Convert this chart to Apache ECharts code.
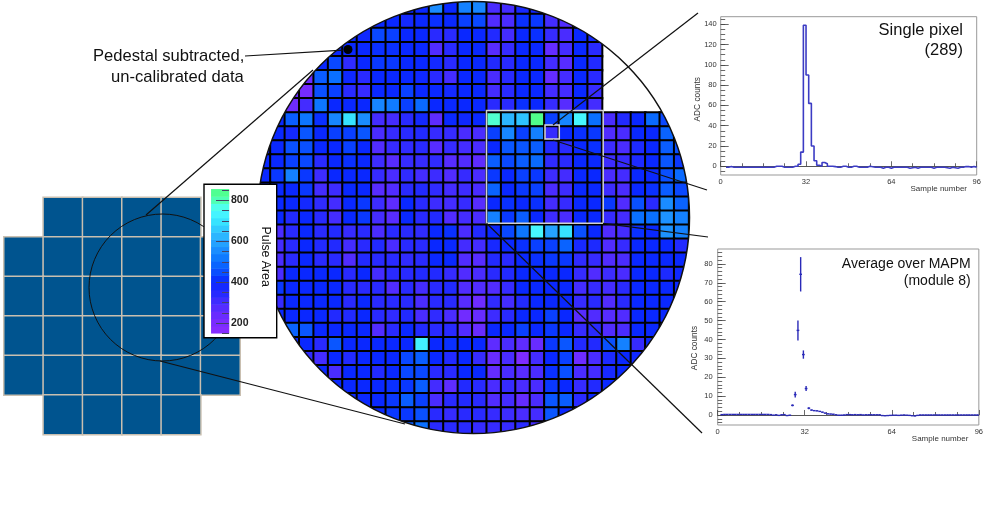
<!DOCTYPE html>
<html><head><meta charset="utf-8">
<style>html,body{margin:0;padding:0;background:#fff}#c{width:986px;height:513px}</style>
<script src="https://cdn.jsdelivr.net/npm/echarts@6/dist/echarts.min.js"></script>
</head><body><div id="c"></div>
<script>
// pulse area per pixel (row by row, columns 0..29); null = no pixel there
const pulseRows = [
[400,400,400,400,400,400,400,400,400,400,400,400,550,400,530,540,290,300,370,380,300,330,400,400,null,null,null,null,null,null],
[400,400,400,400,400,400,400,400,400,400,380,400,410,400,430,440,280,290,410,420,300,280,410,350,null,null,null,null,null,null],
[400,400,400,400,400,400,400,390,440,430,400,400,340,340,400,400,350,300,400,410,320,290,400,380,null,null,null,null,null,null],
[400,400,400,400,400,400,400,400,410,410,400,400,280,340,400,400,270,320,400,400,250,300,400,340,null,null,null,null,null,null],
[400,400,400,400,400,440,330,400,420,420,400,400,380,340,400,400,350,340,400,400,300,270,400,350,null,null,null,null,null,null],
[400,400,400,230,470,500,390,340,400,400,400,390,340,300,400,400,290,340,400,400,250,300,400,340,null,null,null,null,null,null],
[400,400,240,210,450,430,340,320,400,400,430,400,400,380,400,400,300,340,400,400,300,300,400,320,null,null,null,null,null,null],
[400,400,230,300,510,400,400,400,540,520,430,490,400,400,400,400,340,340,410,400,320,270,400,300,null,null,null,null,null,null],
[400,400,470,510,410,540,690,550,300,300,340,380,260,400,390,400,780,620,640,840,430,540,730,500,290,350,400,490,440,400],
[400,400,380,460,400,430,430,460,290,320,340,350,320,320,290,290,430,540,430,530,320,400,410,420,280,290,400,400,480,420],
[400,400,450,450,400,400,430,400,280,320,330,340,270,320,300,290,400,460,460,470,350,340,400,410,310,290,360,400,470,450],
[400,400,430,440,340,400,410,400,310,270,320,320,330,270,280,260,470,440,470,490,330,340,400,400,310,320,360,400,460,420],
[400,420,530,420,310,400,400,400,320,290,330,300,310,280,320,290,420,400,430,420,310,300,400,400,290,300,400,400,450,490],
[400,400,400,420,300,310,400,400,270,280,340,350,330,300,310,290,480,400,420,430,290,310,400,400,310,290,400,410,470,440],
[400,400,400,380,330,300,400,420,310,260,400,340,310,300,320,270,400,410,400,410,300,320,400,400,420,280,450,340,550,480],
[400,400,350,400,340,300,400,420,300,270,400,340,350,280,300,290,530,420,470,400,310,290,400,400,320,300,500,500,560,530],
[400,290,340,400,340,350,320,340,290,340,340,330,400,410,290,350,400,440,510,730,590,690,450,400,280,300,410,400,560,530],
[400,300,340,400,350,350,300,340,350,290,340,340,400,400,300,300,370,400,410,430,430,480,370,360,280,320,400,400,400,350],
[400,290,340,400,340,340,280,350,340,340,330,340,400,400,280,270,350,340,400,410,420,420,330,320,280,290,400,400,400,400],
[400,290,400,400,400,400,340,400,300,340,340,350,350,320,280,290,340,350,400,400,400,400,320,280,310,290,400,400,360,390],
[400,420,400,400,400,400,340,340,340,280,340,300,340,350,280,280,280,320,400,400,400,400,300,320,300,340,400,400,400,400],
[400,320,400,400,400,400,340,400,340,340,340,290,340,340,270,230,330,300,350,400,400,400,320,340,280,340,400,400,400,400],
[400,400,400,400,400,350,350,400,340,330,350,290,330,290,220,240,310,340,400,400,430,400,270,280,270,280,400,400,400,400],
[400,500,480,460,400,400,400,400,280,340,400,350,340,340,280,240,400,400,430,400,420,400,320,340,280,290,400,400,400,400],
[400,400,400,400,340,460,400,400,400,400,400,720,400,410,400,400,260,290,260,240,420,460,350,350,450,530,320,400,400,400],
[400,400,400,330,300,400,350,400,400,400,440,470,400,350,400,320,240,290,190,300,400,430,230,290,360,400,390,400,400,400],
[400,400,400,400,400,290,400,400,350,400,440,440,340,340,400,400,250,290,270,290,410,450,290,300,370,400,400,400,400,400],
[400,400,400,400,400,400,400,400,400,410,420,470,300,260,350,340,290,320,290,290,420,400,320,350,400,400,400,400,400,400],
[400,400,400,400,400,400,400,400,400,420,470,430,290,340,350,340,280,300,250,290,460,470,340,400,400,400,400,400,400,400],
[400,400,400,400,400,400,400,400,400,420,420,450,340,320,340,340,320,310,290,300,460,400,400,400,400,400,400,400,400,400],
[400,400,400,400,400,400,400,400,400,430,470,500,340,340,340,320,320,320,340,300,400,400,400,400,400,400,400,400,400,400]
];
const paletteColors = ['#8a2cff','#7a2cff','#642cff','#442cff','#222aff','#0a28ff','#0a50ff','#0a70ff','#1a8cff','#28a8ff','#30c8ff','#38e8ff','#50ffff','#50ffb0','#50ff80'];
const colorBandValues = [167,202,237,272,307,342,377,412,447,482,517,552,587,622,657,692,727,762,797,832];
const colorMajorTicks = [200,400,600,800];
const colorMinorTicks = [150,200,250,300,350,400,450,500,550,600,650,700,750,800,850];
// detector modules (1 = present)
const moduleLayout = [
[0,1,1,1,1,0],
[1,1,1,1,1,1],
[1,1,1,1,1,1],
[1,1,1,1,1,1],
[1,1,1,1,1,1],
[0,1,1,1,1,0]];
// single pixel trace, bins 2..95
const singlePixel = [-1,-0.2,-1,-1,-1,-1,-1,-1,-1,-1,-1,-1,-1,-1,-1,-1,-1,-1,0,0,0,-1,-1,-1,-1,0,0,2,14,139,90,62,20,5.5,1,0,3.8,2.5,0,0,-0.3,-1,-1,0,0,-1,-1,0,0,-1,-1,-1,-1,0,-0.5,-1,-1,-1,-2,-1,-1,-2,-1,-1,-1,-1,-1,-1,-2,-1.5,-1,-2,-1,-1,-1,-1,-1,-2,-1,-1,-1,-1,-1.5,-2,-1,-1.5,-2,-1,-1,-0.3,-0.3,-1,-0.2,-1];
const singleMajorY = [0,20,40,60,80,100,120,140];
const singleMinorY = [-5,0,5,10,15,20,25,30,35,40,45,50,55,60,65,70,75,80,85,90,95,100,105,110,115,120,125,130,135,140,145];
// MAPM average, bins 1..95
const mapmAverage = [0.2,0.3,0.3,0.3,0.3,0.3,0.3,0.3,0.3,0.3,0.3,0.3,0.3,0.3,0.3,0.3,0.3,0.3,0.2,-0.1,0.1,-0.2,0.1,0.2,-0.3,-0.1,5.1,10.8,44.8,74.5,32,14,3.6,2.6,2.3,2.2,1.9,1.5,1,0.6,0.5,0.4,0.1,-0.1,-0.1,0,0.2,0.2,0.1,0.2,0.1,0.2,0,0.1,0.1,0.1,0.1,0.1,0.1,-0.3,-0.4,-0.3,-0.2,-0.1,-0.1,-0.2,-0.1,0,-0.1,-0.2,-0.4,-0.5,-0.2,0,0,0,0,0,0,0,0,0,0,0,0,0,0,0,0,0,0,0,0,0,0];
const mapmErrors = [0.15,0.15,0.15,0.15,0.15,0.15,0.15,0.15,0.15,0.15,0.15,0.15,0.15,0.15,0.15,0.15,0.15,0.15,0.15,0.15,0.15,0.15,0.15,0.15,0.15,0.15,0.5,1.5,5.3,9.1,2.2,1.3,0.5,0.3,0.2,0.2,0.2,0.2,0.2,0.2,0.15,0.15,0.15,0.15,0.15,0.15,0.15,0.15,0.15,0.15,0.15,0.15,0.15,0.15,0.15,0.15,0.15,0.15,0.15,0.15,0.15,0.15,0.15,0.15,0.15,0.15,0.15,0.15,0.15,0.15,0.15,0.15,0.15,0.15,0.15,0.15,0.15,0.15,0.15,0.15,0.15,0.15,0.15,0.15,0.15,0.15,0.15,0.15,0.15,0.15,0.15,0.15,0.15,0.15,0.15];
const mapmMajorY = [0,10,20,30,40,50,60,70,80];
const mapmMinorY = [-4,-2,0,2,4,6,8,10,12,14,16,18,20,22,24,26,28,30,32,34,36,38,40,42,44,46,48,50,52,54,56,58,60,62,64,66,68,70,72,74,76,78,80,82,84,86];
const sampleLabels = [0,32,64,96];

const FONT = '"Liberation Sans", Arial, sans-serif';
const range = n => Array.from({length:n},(_,i)=>String(i));
const pulseData = [];
pulseRows.forEach((row,r)=>row.forEach((v,c)=>{ if(v!==null) pulseData.push([c,r,v]); }));
const moduleData = [];
moduleLayout.forEach((row,r)=>row.forEach((v,c)=>{ if(v) moduleData.push([c,r,v]); }));
const bandData = colorBandValues.map((v,i)=>[0,i,v]);

const cx=473.5, cy=217.5, cr=216;
// white cover with a round hole, so that the pixel grid shows only inside the circle
const maskPoints = [[691,cy],[691,-5],[252,-5],[252,440],[691,440],[691,cy]];
for(let t=0;t<=720;t++){ const a=t/720*2*Math.PI; maskPoints.push([cx+cr*Math.cos(a),cy+cr*Math.sin(a)]); }

function line(x1,y1,x2,y2,z,w){return {type:'line',z:z||4,shape:{x1,y1,x2,y2},style:{stroke:'#111',lineWidth:w||1.2,fill:null}};}
function txt(text,x,y,size,align,opt){return Object.assign({type:'text',z:6,x,y,style:{text,fontFamily:FONT,fontSize:size,fill:(opt&&opt.fill)||'#111',textAlign:align,textVerticalAlign:'middle',fontWeight:'normal'}},opt&&opt.rotation?{rotation:opt.rotation}:{});}

function valueY(grid,min,max,ticks,len,labels,size,margin,z){
  return {type:'value',gridIndex:grid,min,max,position:'left',z:z||0,splitLine:{show:false},
    axisLine:{show:false},
    axisTick:{show:true,inside:true,length:len,customValues:ticks,lineStyle:{color:'#444',width:0.8}},
    axisLabel:labels?{show:true,customValues:labels,fontFamily:FONT,fontSize:size,color:'#333',margin}:{show:false}};
}
function sampleX(grid){
  return {type:'value',gridIndex:grid,min:0,max:96,interval:32,splitLine:{show:false},
    axisLine:{show:true,lineStyle:{color:'#555',width:1}},
    axisTick:{show:true,inside:true,length:5,lineStyle:{color:'#444',width:0.8}},
    minorTick:{show:true,splitNumber:4,length:3,lineStyle:{color:'#444',width:0.8}},
    minorSplitLine:{show:false},
    axisLabel:{show:true,fontFamily:FONT,fontSize:7.5,color:'#333',margin:3,customValues:sampleLabels}};
}

const option = {
  animation:false,
  backgroundColor:'#fff',
  grid:[
    {left:256,top:-2.5,width:432.6,height:438,z:1},
    {left:4,top:197.5,width:236,height:237,z:3},
    {left:211.3,top:189.3,width:17.7,height:144,z:6},
    {left:720.7,top:16.7,width:256,height:158.3,show:true,borderColor:'#999',borderWidth:1},
    {left:717.7,top:249,width:262.3,height:176,show:true,borderColor:'#999',borderWidth:1}
  ],
  xAxis:[
    {type:'category',gridIndex:0,data:range(30),show:false},
    {type:'category',gridIndex:1,data:range(6),show:false},
    {type:'category',gridIndex:2,data:['0'],show:false},
    sampleX(3),
    sampleX(4)
  ],
  yAxis:[
    {type:'category',gridIndex:0,data:range(31),inverse:true,show:false},
    {type:'category',gridIndex:1,data:range(6),inverse:true,show:false},
    {type:'category',gridIndex:2,data:range(colorBandValues.length),show:false},
    {type:'value',gridIndex:2,min:150,max:855,position:'right',z:7,splitLine:{show:false},axisLine:{show:false},
      axisTick:{show:true,inside:true,length:13,customValues:colorMajorTicks,lineStyle:{color:'#446',width:1}},
      axisLabel:{show:true,customValues:colorMajorTicks,fontFamily:FONT,fontSize:10.5,fontWeight:'bold',color:'#222',margin:2}},
    {type:'value',gridIndex:2,min:150,max:855,position:'right',z:7,splitLine:{show:false},axisLine:{show:false},
      axisTick:{show:true,inside:true,length:7,customValues:colorMinorTicks,lineStyle:{color:'#446',width:1}},
      axisLabel:{show:false}},
    valueY(3,-8.6,147.5,singleMajorY,8,singleMajorY,7.5,4),
    valueY(3,-8.6,147.5,singleMinorY,4.5,null),
    valueY(4,-5.3,87.9,mapmMajorY,8,mapmMajorY,7.5,5),
    valueY(4,-5.3,87.9,mapmMinorY,4.5,null)
  ],
  visualMap:[
    {show:false,seriesIndex:[0,2],min:150,max:850,dimension:2,inRange:{color:paletteColors}},
    {show:false,seriesIndex:1,min:0,max:1,dimension:2,inRange:{color:['#00548f','#00548f']}}
  ],
  series:[
    {type:'heatmap',z:1,xAxisIndex:0,yAxisIndex:0,data:pulseData,progressive:0,
      itemStyle:{borderColor:'#000',borderWidth:2},emphasis:{disabled:true}},
    {type:'heatmap',z:3,xAxisIndex:1,yAxisIndex:1,data:moduleData,progressive:0,
      itemStyle:{borderColor:'#c9bfb0',borderWidth:1.5},emphasis:{disabled:true}},
    {type:'heatmap',z:6,xAxisIndex:2,yAxisIndex:2,data:bandData,progressive:0,emphasis:{disabled:true}},
    {type:'line',xAxisIndex:3,yAxisIndex:5,step:'end',showSymbol:false,symbol:'none',
      lineStyle:{color:'#3c3cc4',width:1.6},
      data:singlePixel.map((v,i)=>[i+2,v]).concat([[96,singlePixel[singlePixel.length-1]]])},
    {type:'custom',xAxisIndex:4,yAxisIndex:7,clip:true,
      data:mapmAverage.map((v,i)=>[i+1.5,v,mapmErrors[i]]),
      encode:{x:0,y:1},
      renderItem:function(params,api){
        const x=api.value(0), y=api.value(1), e=api.value(2);
        const a=api.coord([x-0.5,y]), b=api.coord([x+0.5,y]);
        const c=api.coord([x,y-e]), d=api.coord([x,y+e]);
        const st={stroke:'#2a2ab8',lineWidth:1.4,fill:null};
        return {type:'group',children:[
          {type:'line',shape:{x1:a[0],y1:a[1],x2:b[0],y2:b[1]},style:st},
          {type:'line',shape:{x1:c[0],y1:c[1],x2:d[0],y2:d[1]},style:st}
        ]};
      }}
  ],
  graphic:{elements:[
    {type:'polygon',z:2,shape:{points:maskPoints},style:{fill:'#fff',stroke:null}},
    {type:'circle',z:3,shape:{cx,cy,r:cr},style:{fill:null,stroke:'#111',lineWidth:1.5}},
    {type:'rect',z:4,shape:{x:486.5,y:110.5,width:116.7,height:112.8},style:{fill:null,stroke:'#d0d0d0',lineWidth:1.5}},
    {type:'rect',z:4,shape:{x:545,y:125,width:14.3,height:14},style:{fill:null,stroke:'#d8d8d8',lineWidth:1.5}},
    {type:'circle',z:4,shape:{cx:162.5,cy:287.5,r:73.5},style:{fill:null,stroke:'#111',lineWidth:1}},
    line(146,215,313,70), line(160,361,405,424),
    line(553,125,698,13), line(553,140,707,190),
    line(603,223.3,708,237), line(486.5,223.3,702,433),
    line(245,56,343,50.2),
    {type:'circle',z:4,shape:{cx:348,cy:49.5,r:4.5},style:{fill:'#000',stroke:null}},
    {type:'rect',z:5,shape:{x:204,y:184.3,width:72.7,height:153.4},style:{fill:'#fff',stroke:'#000',lineWidth:1.4}},
    txt('Pulse Area',265,256.7,12.3,'center',{rotation:-Math.PI/2}),
    txt('Pedestal subtracted,',93,56,16.6,'left'),
    txt('un-calibrated data',111,77,16.6,'left'),
    txt('Single pixel',963,30,16.5,'right'),
    txt('(289)',963,50,16.5,'right'),
    txt('Average over MAPM',970.7,264,14,'right'),
    txt('(module 8)',970.7,280.7,14,'right'),
    txt('Sample number',967,189,8,'right',{fill:'#333'}),
    txt('Sample number',968.3,438.3,8,'right',{fill:'#333'}),
    txt('ADC counts',697.3,99.3,8.3,'center',{rotation:Math.PI/2,fill:'#333'}),
    txt('ADC counts',694.3,348,8.3,'center',{rotation:Math.PI/2,fill:'#333'})
  ]}
};
echarts.init(document.getElementById('c'),null,{renderer:'canvas'}).setOption(option);
</script>
</body></html>
